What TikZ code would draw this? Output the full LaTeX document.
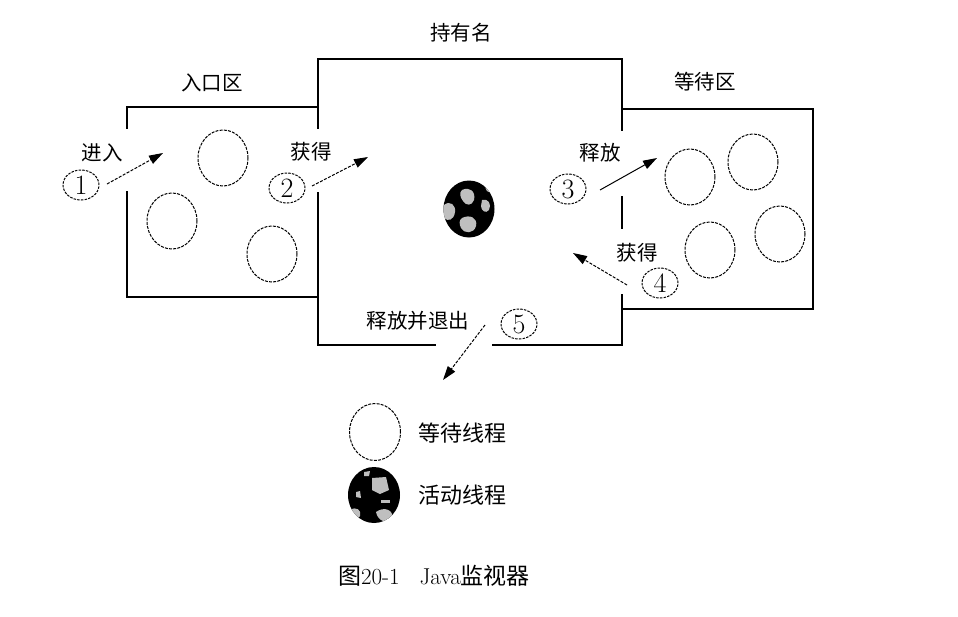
\documentclass[tikz,border=0pt]{standalone}
\usepackage{fontspec}
\newfontfamily\cjk{Noto Sans CJK SC}
\usetikzlibrary{shapes.geometric,arrows.meta}
\begin{document}
\begin{tikzpicture}[x=1pt,y=-1pt,
  wall/.style={line width=2.7pt,line cap=rect},
  wthread/.style={ellipse,draw,line width=1pt,dash pattern=on 3pt off 1.2pt,minimum width=50pt,minimum height=56pt,inner sep=0pt},
  athread/.style={ellipse,fill=black,minimum width=51pt,minimum height=57pt,inner sep=0pt},
  patch/.style={fill=gray!50},
  numc/.style={ellipse,draw,line width=1pt,dash pattern=on 2.5pt off 1.2pt,minimum width=36pt,minimum height=30pt,inner sep=0pt,font=\fontsize{28}{28}\selectfont},
  lbl/.style={font=\cjk\fontsize{20.5}{20.5}\selectfont,inner sep=0pt},
  flow/.style={line width=1pt,dash pattern=on 3pt off 1.5pt,-{Triangle[length=14pt,width=9pt]}},
  solidflow/.style={line width=1pt,-{Triangle[length=14pt,width=9pt]}}]
\useasboundingbox[fill=white] (0,0) rectangle (958,616);

% walls
\draw[wall] (127,128) -- (127,107) -- (318,107);
\draw[wall] (127,192) -- (127,297) -- (318,297);
\draw[wall] (318,128) -- (318,59) -- (622,59) -- (622,130);
\draw[wall] (318,193) -- (318,345) -- (435,345);
\draw[wall] (493,345) -- (622,345) -- (622,295);
\draw[wall] (622,197) -- (622,228);
\draw[wall] (622,109) -- (813,109) -- (813,309) -- (622,309);

% region labels
\node[lbl] (entryl) at (212,83) {入口区};
\node[lbl] (ownerl) at (461,33) {持有名};
\node[lbl] (waitl) at (705,82) {等待区};

% waiting threads in entry set
\node[wthread] (e1) at (223,158) {};
\node[wthread] (e2) at (172,221) {};
\node[wthread] (e3) at (272,254) {};

% waiting threads in wait set
\node[wthread] (w1) at (690,177) {};
\node[wthread] (w2) at (753,162) {};
\node[wthread] (w3) at (710,250) {};
\node[wthread] (w4) at (780,234) {};

% active thread (owner)
\node[athread] (act) at (469,209) {};
\begin{scope}
  \clip (469,209) ellipse [x radius=25.5, y radius=28.5];
  \fill[patch] (462,190) .. controls (470,186) and (476,192) .. (474,200) .. controls (472,206) and (466,206) .. (463,201) .. controls (460,197) and (459,193) .. (462,190) -- cycle;
  \fill[patch] (444,205) .. controls (450,200) and (456,205) .. (455,212) .. controls (454,220) and (448,222) .. (444,218) -- cycle;
  \fill[patch] (462,218) .. controls (470,214) and (478,218) .. (476,226) .. controls (474,234) and (464,234) .. (461,228) .. controls (459,224) and (459,220) .. (462,218) -- cycle;
  \fill[patch] (482,200) .. controls (488,198) and (492,204) .. (489,210) .. controls (486,214) and (481,211) .. (481,206) -- cycle;
  \fill[patch] (486,182) .. controls (490,184) and (492,190) .. (489,192) .. controls (486,192) and (484,186) .. (486,182) -- cycle;
\end{scope}

% step numbers
\node[numc] (n1) at (81,185) {1};
\node[numc] (n2) at (287,188) {2};
\node[numc] (n3) at (568,189) {3};
\node[numc] (n4) at (660,283) {4};
\node[numc] (n5) at (519,324) {5};

% step labels
\node[lbl] (t1) at (102,153) {进入};
\node[lbl] (t2) at (311,152) {获得};
\node[lbl] (t3) at (600,153) {释放};
\node[lbl] (t4) at (637,253) {获得};
\node[lbl] (t5) at (418,321) {释放并退出};

% arrows
\coordinate (a1s) at (107,184); \coordinate (a1e) at (163,153);
\coordinate (a2s) at (312,186); \coordinate (a2e) at (368,157);
\coordinate (a3s) at (600,190); \coordinate (a3e) at (657,158);
\coordinate (a4s) at (627,285); \coordinate (a4e) at (573,253);
\coordinate (a5s) at (485,325); \coordinate (a5e) at (443,380);
\draw[flow] (a1s) -- (a1e);
\draw[flow] (a2s) -- (a2e);
\draw[solidflow] (a3s) -- (a3e);
\draw[flow] (a4s) -- (a4e);
\draw[flow] (a5s) -- (a5e);

% legend
\node[wthread,minimum width=51pt,minimum height=57pt] (lw) at (375,432) {};
\node[lbl,font=\cjk\fontsize{22}{22}\selectfont] (lwt) at (462,433) {等待线程};
\node[athread,minimum width=52pt,minimum height=56pt] (la) at (374,495) {};
\begin{scope}
  \clip (374,495) ellipse [x radius=26, y radius=28];
  \fill[patch] (372,478) -- (386,477) -- (389,490) -- (380,494) -- (372,490) -- cycle;
  \fill[patch] (350,510) .. controls (356,506) and (362,510) .. (360,516) .. controls (356,522) and (350,520) .. (350,510) -- cycle;
  \fill[patch] (376,512) .. controls (384,506) and (394,510) .. (392,518) .. controls (388,524) and (378,522) .. (376,512) -- cycle;
  \fill[patch] (364,472) -- (370,471) -- (369,476) -- (364,476) -- cycle;
  \fill[patch] (356,492) -- (360,491) -- (361,498) -- (356,497) -- cycle;
  \fill[patch] (381,500) -- (390,500) -- (390,503) -- (381,503) -- cycle;
\end{scope}
\node[lbl,font=\cjk\fontsize{22}{22}\selectfont] (lat) at (462,495) {活动线程};

% caption
\node[inner sep=0pt,font=\fontsize{23}{23}\selectfont] (cap) at (434,576) {{\cjk 图}20-1\hspace{20pt}Java{\cjk 监视器}};
\end{tikzpicture}
\end{document}
